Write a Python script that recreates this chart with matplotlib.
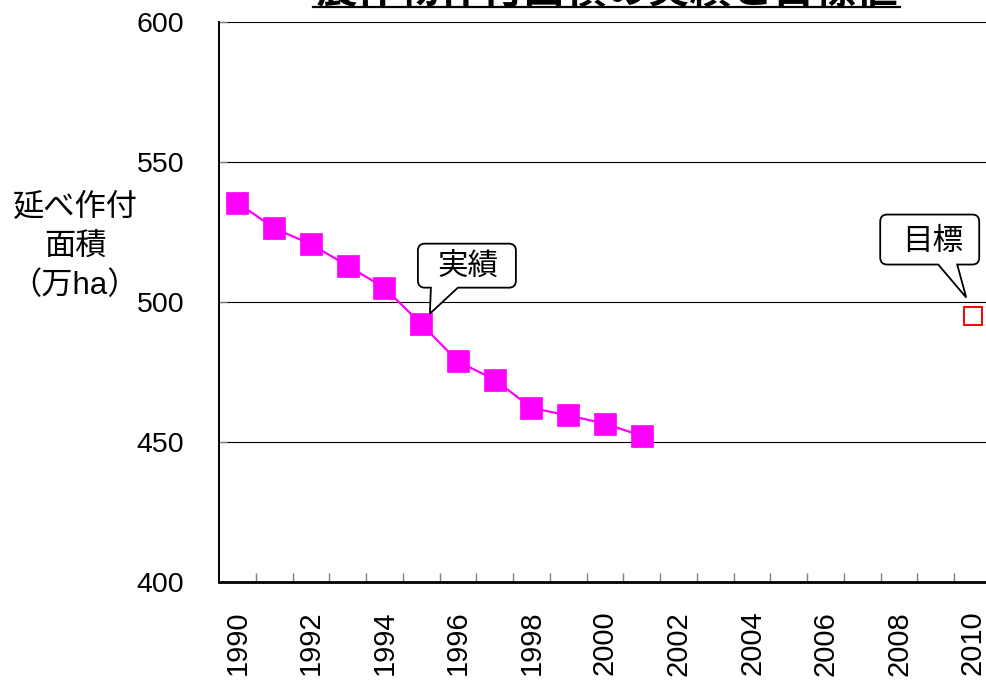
import numpy as np
import matplotlib
matplotlib.use("Agg")
import matplotlib.pyplot as plt
from matplotlib.path import Path
from matplotlib.patches import PathPatch
from matplotlib.lines import Line2D
from matplotlib.transforms import ScaledTranslation

plt.rcParams['font.family'] = ['Liberation Sans', 'Noto Sans CJK JP']

# ---- data -------------------------------------------------------------
years = [str(y) for y in range(1990, 2011)]
actual_years = ['1990', '1991', '1992', '1993', '1994', '1995',
                '1996', '1997', '1998', '1999', '2000', '2001']
actual_area = [535.5, 526.3, 520.6, 512.9, 505.0, 492.1,
               478.7, 472.2, 462.1, 459.4, 456.5, 452.1]
target_year = '2010'
target_area = 495.0
y_ticks = [400, 450, 500, 550, 600]

title = '農作物作付面積の実績と目標値'
ylabel = '延べ作付\n面積\n（万ha）'

# ---- figure -------------------------------------------------------------
W, H = 986, 680
fig = plt.figure(figsize=(W / 100, H / 100), dpi=100)
ax = fig.add_axes([219 / W, 1 - 581.7 / H, (991 - 219) / W, (581.7 - 22) / H])

pos = {y: i for i, y in enumerate(years)}
xa = [pos[y] for y in actual_years]

ax.plot(xa, actual_area, color='#FF00FF', lw=1.6, marker='s', ms=15.3,
        mfc='#FF00FF', mec='#FF00FF', mew=0.5, zorder=3, clip_on=False)
ax.plot([pos[target_year]], [target_area], ls='none', marker='s', ms=13.6,
        mfc='white', mec='#FF0000', mew=1.4, zorder=3, clip_on=False)

ax.set_xlim(-0.5, len(years) - 0.5)
ax.set_ylim(y_ticks[0], y_ticks[-1])
ax.set_yticks(y_ticks)
for v in y_ticks[1:]:
    ax.axhline(v, color='black', lw=0.8, zorder=1)

ax.set_xticks(range(0, len(years), 2))
ax.set_xticklabels(years[::2], rotation=90, fontsize=21)
ax.set_xticks(np.arange(0.5, len(years) - 1, 1), minor=True)
ax.tick_params(axis='x', which='major', length=0, pad=21)
ax.tick_params(axis='x', which='minor', direction='in', length=6.5,
               width=1, color='#7f7f7f')
ax.tick_params(axis='y', direction='in', length=6, width=1,
               color='#7f7f7f', labelsize=20.5, pad=25)

for s in ('top', 'right'):
    ax.spines[s].set_visible(False)
ax.spines['left'].set_linewidth(1.4)
ax.spines['bottom'].set_linewidth(2.0)


# ---- speech-bubble callouts ---------------------------------------------
def callout(xd, yd, box, base, tip, text_xy, text, fs):
    """Rounded speech bubble whose pointer ends near (xd, yd).
    Geometry is given in pixels relative to the data point, y upwards."""
    x0, x1, y0, y1 = box
    bx0, bx1 = base
    r = 7
    pts = [
        ((x0 + r, y0), Path.MOVETO),
        ((bx0, y0), Path.LINETO),
        (tip, Path.LINETO),
        ((bx1, y0), Path.LINETO),
        ((x1 - r, y0), Path.LINETO),
        ((x1, y0), Path.CURVE3), ((x1, y0 + r), Path.CURVE3),
        ((x1, y1 - r), Path.LINETO),
        ((x1, y1), Path.CURVE3), ((x1 - r, y1), Path.CURVE3),
        ((x0 + r, y1), Path.LINETO),
        ((x0, y1), Path.CURVE3), ((x0, y1 - r), Path.CURVE3),
        ((x0, y0 + r), Path.LINETO),
        ((x0, y0), Path.CURVE3), ((x0 + r, y0), Path.CURVE3),
        ((x0 + r, y0), Path.CLOSEPOLY),
    ]
    verts = np.array([p for p, _ in pts]) / 100.0
    codes = [c for _, c in pts]
    trans = fig.dpi_scale_trans + ScaledTranslation(xd, yd, ax.transData)
    ax.add_patch(PathPatch(Path(verts, codes), fc='white', ec='black',
                           lw=1.3, transform=trans, clip_on=False, zorder=5))
    ax.text(text_xy[0] / 100, text_xy[1] / 100, text, transform=trans,
            ha='center', va='center', fontsize=fs, zorder=6,
            family=['Noto Sans CJK JP'])


callout(pos['1995'], actual_area[actual_years.index('1995')],
        box=(-3.3, 94.7, 36.3, 80.3), base=(9.7, 36.7), tip=(8.7, 10.3),
        text_xy=(46.7, 57.3), text='実績', fs=22)
callout(pos[target_year], target_area,
        box=(-92.4, 6.6, 51.3, 101.3), base=(-34.4, -15.4), tip=(-6.4, 18.3),
        text_xy=(-40.4, 74.3), text='目標', fs=22)

# ---- title (underlined) and y label -------------------------------------
fig.text(607 / W, 1 - 3 / H, title, ha='center', va='baseline',
         fontsize=30, fontweight='bold', family=['Noto Sans CJK JP'])
fig.add_artist(Line2D([313 / W, 900 / W], [1 - 6.5 / H, 1 - 6.5 / H],
                      color='black', lw=1.6, transform=fig.transFigure))

fig.text(75 / W, 1 - 247 / H, ylabel, ha='center', va='center',
         multialignment='center', fontsize=22.5, linespacing=1.4)

fig.savefig('out.png', dpi=100)
